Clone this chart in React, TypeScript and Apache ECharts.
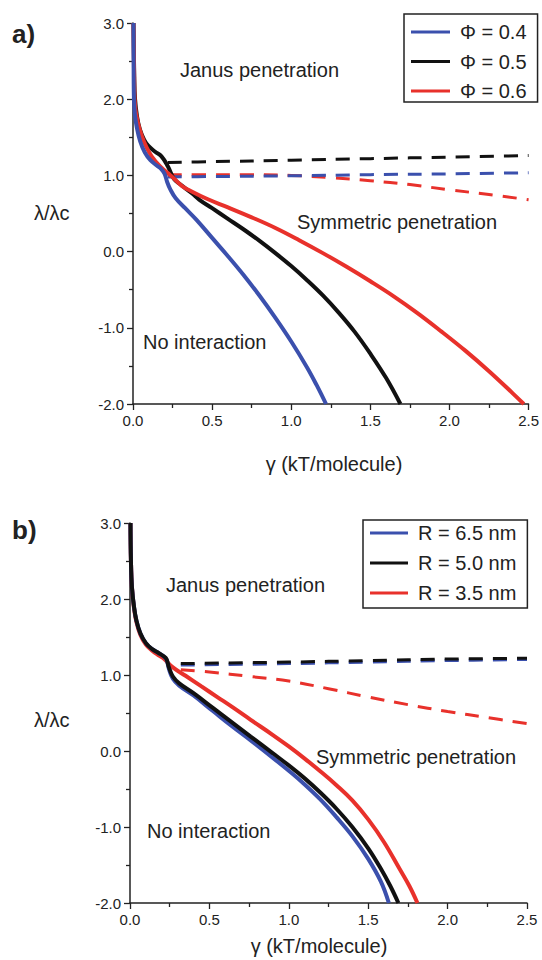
import React, { useEffect, useRef } from "react";
import * as echarts from "echarts";

const FONT = "Liberation Sans, Arial, sans-serif";
const BLUE = "#3b50ad";
const BLACK = "#111111";
const RED = "#e8312b";

// ---------- Panel a) : Φ series ----------
const aBlueX = [0.003, 0.004, 0.006, 0.012, 0.025, 0.045, 0.075, 0.11, 0.15, 0.18, 0.2, 0.215, 0.235, 0.27, 0.33, 0.4, 0.5, 0.6, 0.7, 0.8, 0.9, 1.0, 1.1, 1.16, 1.22];
const aBlueY = [3.0, 2.4, 2.0, 1.8, 1.62, 1.45, 1.3, 1.2, 1.13, 1.08, 1.02, 0.92, 0.82, 0.7, 0.57, 0.42, 0.18, -0.06, -0.31, -0.58, -0.87, -1.18, -1.52, -1.75, -2.0];

const aBlackX = [0.003, 0.008, 0.013, 0.025, 0.044, 0.07, 0.096, 0.14, 0.18, 0.22, 0.26, 0.3, 0.37, 0.42, 0.5, 0.6, 0.7, 0.8, 0.9, 1.0, 1.1, 1.2, 1.3, 1.4, 1.5, 1.6, 1.69];
const aBlackY = [3.0, 2.3, 2.0, 1.78, 1.6, 1.47, 1.39, 1.31, 1.25, 1.12, 0.95, 0.88, 0.77, 0.68, 0.57, 0.43, 0.29, 0.14, -0.02, -0.19, -0.375, -0.575, -0.8, -1.05, -1.34, -1.66, -2.0];

const aRedX = [0.003, 0.008, 0.013, 0.03, 0.055, 0.085, 0.118, 0.17, 0.22, 0.254, 0.31, 0.38, 0.47, 0.6, 0.75, 0.9, 1.05, 1.2, 1.35, 1.5, 1.65, 1.8, 1.95, 2.1, 2.25, 2.4, 2.47];
const aRedY = [3.0, 2.2, 1.91, 1.7, 1.52, 1.37, 1.25, 1.12, 1.03, 0.97, 0.86, 0.78, 0.69, 0.58, 0.45, 0.31, 0.15, -0.02, -0.2, -0.39, -0.59, -0.81, -1.05, -1.3, -1.57, -1.86, -2.0];

const aBlackDashX = [0.22, 0.5, 1.0, 1.5, 2.0, 2.5];
const aBlackDashY = [1.17, 1.18, 1.2, 1.22, 1.24, 1.26];
const aBlueDashX = [0.22, 0.5, 1.0, 1.5, 2.0, 2.5];
const aBlueDashY = [0.98, 0.985, 0.995, 1.01, 1.02, 1.035];
const aRedDashX = [0.22, 0.5, 0.75, 1.0, 1.25, 1.5, 1.75, 2.0, 2.25, 2.5];
const aRedDashY = [1.01, 1.01, 1.01, 1.0, 0.97, 0.93, 0.88, 0.81, 0.75, 0.68];

// ---------- Panel b) : R series ----------
const bBlueX = [0.003, 0.006, 0.012, 0.025, 0.04, 0.065, 0.1, 0.14, 0.18, 0.21, 0.23, 0.245, 0.27, 0.31, 0.4, 0.52, 0.64, 0.76, 0.9, 1.0, 1.1, 1.2, 1.3, 1.4, 1.5, 1.58, 1.63];
const bBlueY = [3.0, 2.5, 2.16, 1.9, 1.72, 1.55, 1.42, 1.34, 1.29, 1.25, 1.2, 1.08, 0.95, 0.86, 0.73, 0.53, 0.33, 0.14, -0.09, -0.26, -0.44, -0.64, -0.87, -1.12, -1.42, -1.72, -2.0];

const bBlackX = [0.003, 0.006, 0.012, 0.025, 0.04, 0.065, 0.1, 0.14, 0.18, 0.21, 0.23, 0.245, 0.27, 0.31, 0.4, 0.52, 0.64, 0.76, 0.9, 1.0, 1.1, 1.2, 1.3, 1.4, 1.5, 1.58, 1.64, 1.69];
const bBlackY = [3.0, 2.5, 2.16, 1.9, 1.72, 1.55, 1.42, 1.34, 1.29, 1.25, 1.21, 1.1, 0.98, 0.89, 0.76, 0.57, 0.38, 0.19, -0.03, -0.19, -0.36, -0.55, -0.76, -1.0, -1.28, -1.55, -1.78, -2.0];

const bRedX = [0.003, 0.006, 0.012, 0.025, 0.04, 0.065, 0.1, 0.14, 0.18, 0.21, 0.27, 0.35, 0.45, 0.55, 0.65, 0.76, 0.9, 1.0, 1.1, 1.2, 1.3, 1.4, 1.5, 1.6, 1.7, 1.76, 1.81];
const bRedY = [3.0, 2.5, 2.16, 1.88, 1.7, 1.53, 1.4, 1.32, 1.26, 1.22, 1.1, 0.99, 0.85, 0.71, 0.57, 0.41, 0.21, 0.06, -0.1, -0.27, -0.45, -0.65, -0.9, -1.2, -1.56, -1.78, -2.0];

const bBlackDashX = [0.32, 1.0, 1.5, 2.0, 2.5];
const bBlackDashY = [1.15, 1.17, 1.19, 1.21, 1.22];
const bBlueDashX = [0.32, 1.0, 1.5, 2.0, 2.5];
const bBlueDashY = [1.13, 1.15, 1.17, 1.19, 1.205];
const bRedDashX = [0.32, 0.5, 0.76, 1.0, 1.25, 1.5, 1.75, 2.0, 2.25, 2.5];
const bRedDashY = [1.07, 1.04, 0.98, 0.92, 0.82, 0.71, 0.61, 0.52, 0.44, 0.36];

const legendA = ["Φ = 0.4", "Φ = 0.5", "Φ = 0.6"];
const legendB = ["R = 6.5 nm", "R = 5.0 nm", "R = 3.5 nm"];

const xMin = 0, xMax = 2.5, xStep = 0.5;
const yMin = -2, yMax = 3, yStep = 1;

const zip = (xs: number[], ys: number[]) => xs.map((x, i) => [x, ys[i]]);

function solid(name: string, color: string, xs: number[], ys: number[], idx: number) {
  return {
    type: "line", name, xAxisIndex: idx, yAxisIndex: idx, data: zip(xs, ys),
    showSymbol: false, symbol: "none", smooth: 0.4, color,
    lineStyle: { color, width: 4 },
  };
}
function dashed(name: string, color: string, xs: number[], ys: number[], idx: number) {
  return {
    type: "line", name, xAxisIndex: idx, yAxisIndex: idx, data: zip(xs, ys),
    showSymbol: false, symbol: "none", smooth: 0.4, color,
    lineStyle: { color, width: 3, type: [14, 10] },
  };
}

function axisCommon() {
  return {
    axisLine: { show: true, onZero: false, lineStyle: { color: "#222", width: 1.5 } },
    axisTick: { show: true, length: 6, lineStyle: { color: "#222", width: 1.3 } },
    minorTick: { show: true, splitNumber: 2, length: 4, lineStyle: { color: "#222", width: 1.3 } },
    splitLine: { show: false },
    axisLabel: { fontSize: 15, fontFamily: FONT, color: "#222", margin: 9, formatter: (v: number) => v.toFixed(1) },
  };
}
function xAxisCfg(idx: number) {
  return { type: "value", gridIndex: idx, min: xMin, max: xMax, interval: xStep, ...axisCommon() };
}
function yAxisCfg(idx: number) {
  return { type: "value", gridIndex: idx, min: yMin, max: yMax, interval: yStep, ...axisCommon() };
}

function txt(text: string, x: number, y: number, size = 20, weight = "normal", align = "left") {
  return {
    type: "text", x, y, silent: true,
    style: {
      text, fill: "#222", fontSize: size, fontFamily: FONT, fontWeight: weight,
      align, verticalAlign: "middle", textAlign: align, textVerticalAlign: "middle",
    },
  };
}

function legendCfg(data: string[], left: number, top: number, padding: number[], gap: number, iw: number) {
  return {
    data, orient: "vertical", left, top, padding, itemGap: gap, itemWidth: iw, itemHeight: 3,
    icon: "rect", selectedMode: false, borderColor: "#222", borderWidth: 1.5, backgroundColor: "#fff",
    textStyle: { fontSize: 20, lineHeight: 20, fontFamily: FONT, color: "#222", padding: [0, 0, 0, 5] },
  };
}

export default function App() {
  const ref = useRef<HTMLDivElement>(null);
  useEffect(() => {
    document.body.style.margin = "0";
    const chart = echarts.init(ref.current!, undefined, { renderer: "svg" });
    chart.setOption({
      animation: false,
      backgroundColor: "#fff",
      grid: [
        { left: 133, top: 23, width: 397, height: 381 },
        { left: 130, top: 523, width: 397, height: 380 },
      ],
      xAxis: [xAxisCfg(0), xAxisCfg(1)],
      yAxis: [yAxisCfg(0), yAxisCfg(1)],
      legend: [
        legendCfg(legendA, 404, 14, [8, 11, 1, 7], 9.5, 39),
        legendCfg(legendB, 363, 520, [3, 11, 5, 7], 10, 38),
      ],
      series: [
        dashed("a black dashed", BLACK, aBlackDashX, aBlackDashY, 0),
        dashed("a red dashed", RED, aRedDashX, aRedDashY, 0),
        dashed("a blue dashed", BLUE, aBlueDashX, aBlueDashY, 0),
        solid(legendA[1], BLACK, aBlackX, aBlackY, 0),
        solid(legendA[2], RED, aRedX, aRedY, 0),
        solid(legendA[0], BLUE, aBlueX, aBlueY, 0),
        dashed("b red dashed", RED, bRedDashX, bRedDashY, 1),
        dashed("b blue dashed", BLUE, bBlueDashX, bBlueDashY, 1),
        dashed("b black dashed", BLACK, bBlackDashX, bBlackDashY, 1),
        solid(legendB[2], RED, bRedX, bRedY, 1),
        solid(legendB[0], BLUE, bBlueX, bBlueY, 1),
        solid(legendB[1], BLACK, bBlackX, bBlackY, 1),
      ],
      graphic: [
        txt("a)", 12, 34, 26, "bold"),
        txt("b)", 12, 530, 26, "bold"),
        txt("Janus penetration", 180, 70),
        txt("Symmetric penetration", 297, 222),
        txt("No interaction", 143, 342),
        txt("λ/λc", 34, 213),
        txt("γ (kT/molecule)", 334, 464, 20, "normal", "center"),
        txt("Janus penetration", 166, 585),
        txt("Symmetric penetration", 316, 757),
        txt("No interaction", 147, 831),
        txt("λ/λc", 34, 720),
        txt("γ (kT/molecule)", 319, 946, 20, "normal", "center"),
      ],
    });
    return () => chart.dispose();
  }, []);
  return <div ref={ref} style={{ width: 542, height: 960 }} />;
}
